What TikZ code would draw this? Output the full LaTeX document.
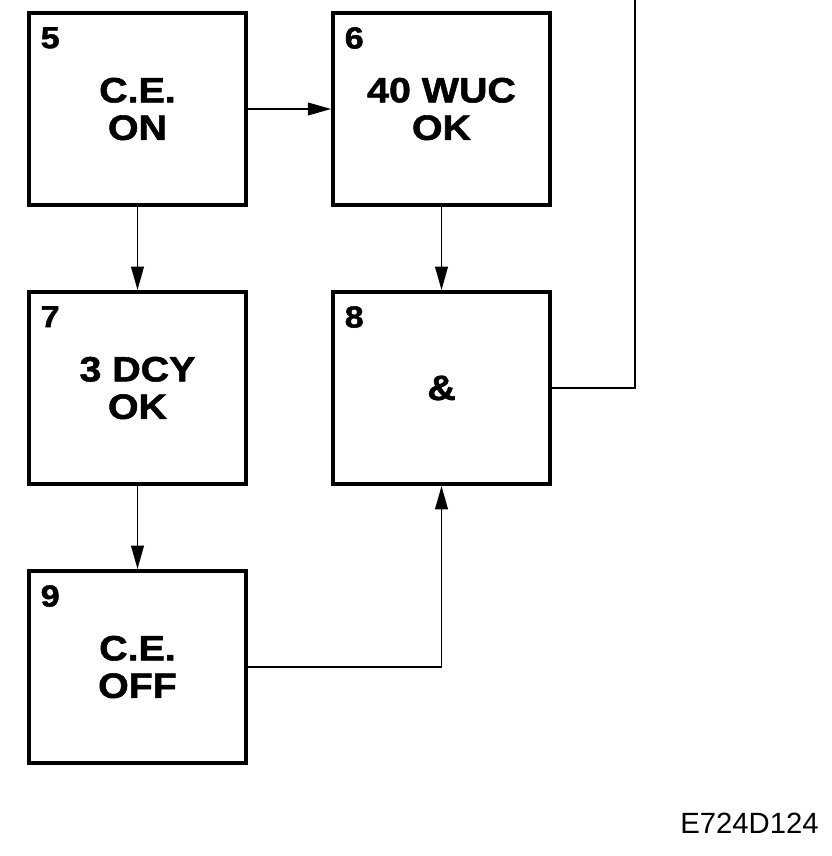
\documentclass[tikz,border=0pt]{standalone}
\usepackage{fontspec}
\setmainfont{Liberation Sans}
\newfontfamily\blockfont{Liberation Sans Bold}[FakeStretch=1.12,FakeBold=1.5]
\usetikzlibrary{arrows.meta,positioning}

\begin{document}
\begin{tikzpicture}[x=0.03cm,y=-0.03cm,node distance=8.37cm and 9.12cm,on grid,
    >={Triangle[length=0.7cm,width=0.38cm]},
    num/.style={label={[anchor=north west,inner sep=0pt,xshift=0.4cm,yshift=-0.48cm,
        font=\blockfont\fontsize{26}{30}\selectfont]north west:#1}}]
       \tikzstyle{block}=[draw,line width=0.12cm,minimum width=6.5cm,minimum height=5.76cm,
         align=center,font=\blockfont\fontsize{30}{32}\selectfont]
       \useasboundingbox (0,0) rectangle (832,856);

       \node[block,num=5] (b5) at (137.5,109) {C.E.\\ON};
       \node[block,num=6] (b6) [right=of b5] {40 WUC\\OK};
       \node[block,num=7] (b7) [below=of b5] {3 DCY\\OK};
       \node[block,num=8] (b8) [right=of b7] {\&};
       \node[block,num=9] (b9) [below=of b7] {C.E.\\OFF};
       \coordinate (top) at (635,0);

       \node[anchor=base east,inner sep=0pt,font=\fontsize{25}{30}\selectfont] (code) at (819,833) {E724D124};

       \path[->,line width=1.5pt]
       (b5) edge (b6)
            edge (b7)
       (b6) edge (b8)
       (b7) edge (b9);
       \draw[->,line width=1.5pt] (b9.east) -| (b8.south);
       \draw[line width=1.5pt] (b8.east) -| (top);
\end{tikzpicture}
\end{document}
